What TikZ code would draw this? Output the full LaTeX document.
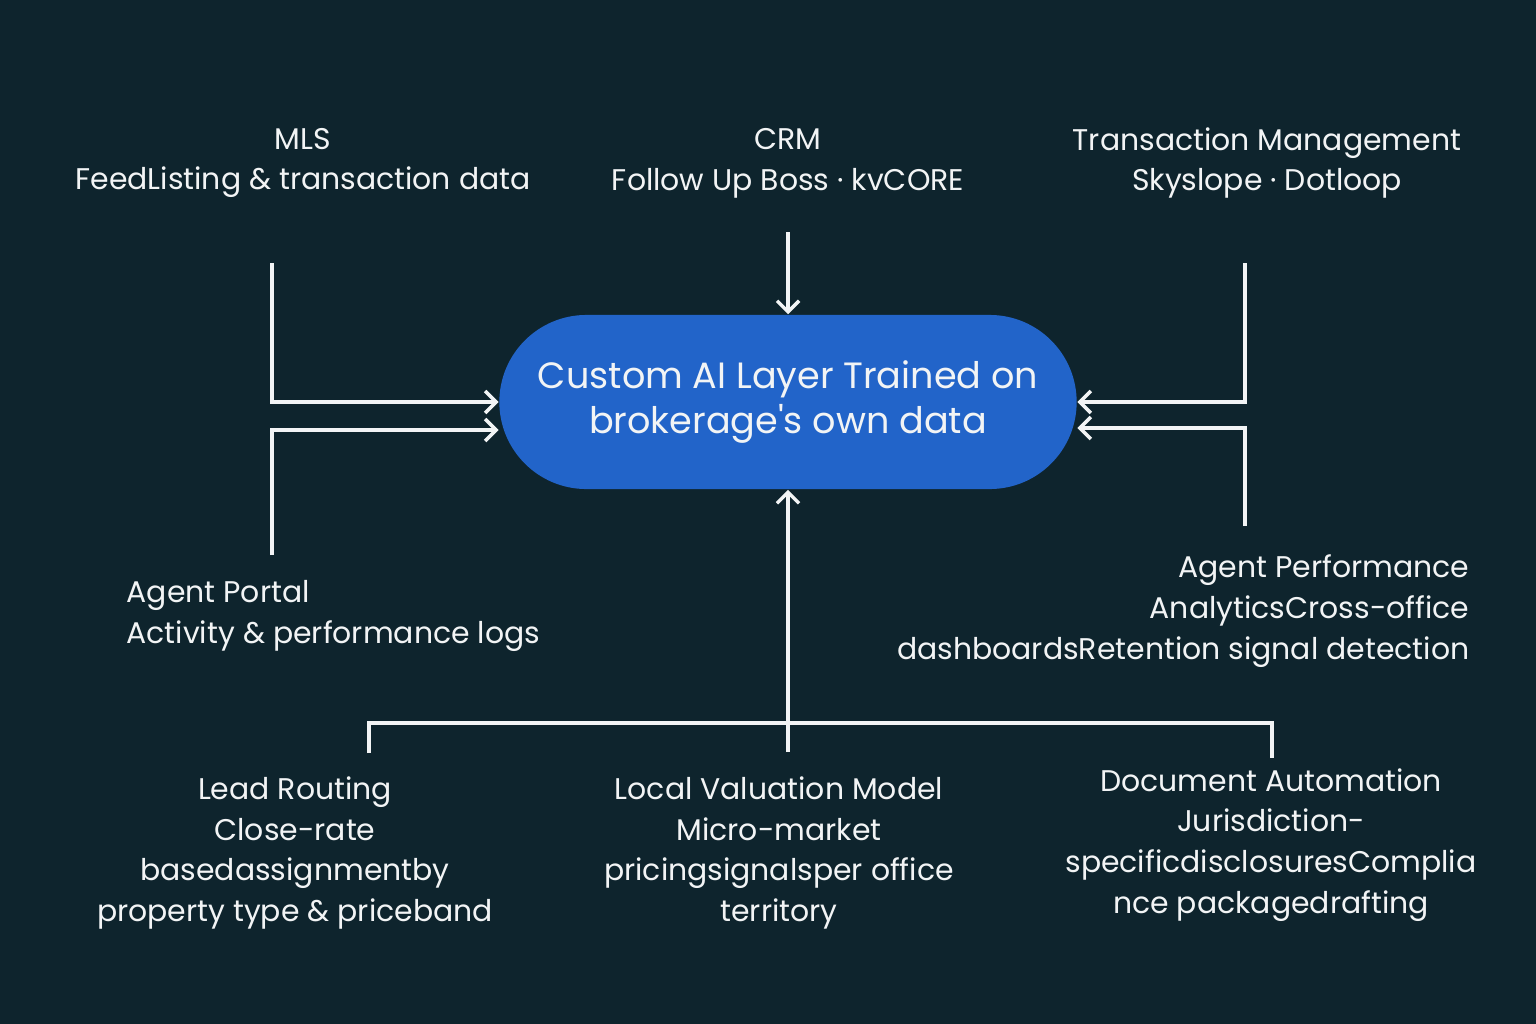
\documentclass[tikz,border=0pt]{standalone}
\usepackage{fontspec}
\setmainfont{Poppins}
\usetikzlibrary{arrows.meta,positioning}
\definecolor{bgdark}{HTML}{0E242D}
\definecolor{pillblue}{HTML}{2264C9}
\definecolor{softwhite}{HTML}{F2F4F5}
\tikzset{
  srctext/.style={text=softwhite,font=\fontsize{8.5}{11.6}\selectfont,align=center,inner sep=0pt},
  hubbox/.style={fill=pillblue,text=softwhite,font=\fontsize{10.4}{13}\selectfont,align=center,
    minimum width=5.77cm,minimum height=1.74cm,rounded corners=0.87cm,inner sep=0pt},
  wire/.style={draw=softwhite,line width=1pt},
  feed/.style={wire,-{Straight Barb[length=1.1mm,width=2.2mm,line width=1pt]}}
}
\begin{document}
\begin{tikzpicture}[x=0.01cm,y=-0.01cm]
\fill[bgdark] (0,0) rectangle (1536,1024);
\useasboundingbox (0,0) rectangle (1536,1024);
% hub
\node[hubbox] (hub) at (788,402) {Custom AI Layer Trained on\\brokerage\textquotesingle s own data};
% sources above
\node[srctext] (mls) at (303,163) {MLS\\FeedListing \& transaction data};
\node[srctext] (crm) at (788,163) {CRM\\Follow Up Boss · kvCORE};
\node[srctext] (tms) at (1267,163) {Transaction Management\\Skyslope · Dotloop};
% side labels
\node[srctext,align=left,anchor=west] (portal) at (126,616) {Agent Portal\\Activity \& performance logs};
\node[srctext,align=right,anchor=east] (perf) at (1470,611) {Agent Performance\\AnalyticsCross-office\\dashboardsRetention signal detection};
% outputs below
\node[srctext] (lead) at (295,853) {Lead Routing\\Close-rate\\basedassignmentby\\property type \& priceband};
\node[srctext] (valu) at (779,853) {Local Valuation Model\\Micro-market\\pricingsignalsper office\\territory};
\node[srctext] (docs) at (1271,845) {Document Automation\\Jurisdiction-\\specificdisclosuresComplia\\nce packagedrafting};
% free ends of the wires
\coordinate (mlsFoot) at (272,263);
\coordinate (portalFoot) at (272,555);
\coordinate (crmFoot) at (788,232);
\coordinate (tmsFoot) at (1245,263);
\coordinate (perfFoot) at (1245,526);
\coordinate (busMid) at (788,752);
\coordinate (busLine) at (788,723);
\coordinate (leadTip) at (369,753);
\coordinate (docsTip) at (1272,758);
% connectors
\draw[feed] (crmFoot) -- (hub.north);
\draw[feed] (mlsFoot) |- (hub.west);
\draw[feed] (portalFoot) |- ([yshift=-0.28cm]hub.west);
\draw[feed] (tmsFoot) |- (hub.east);
\draw[feed] (perfFoot) |- ([yshift=-0.26cm]hub.east);
\draw[feed] (busMid) -- (hub.south);
\draw[wire] (leadTip) |- (busLine) -| (docsTip);
\end{tikzpicture}
\end{document}
